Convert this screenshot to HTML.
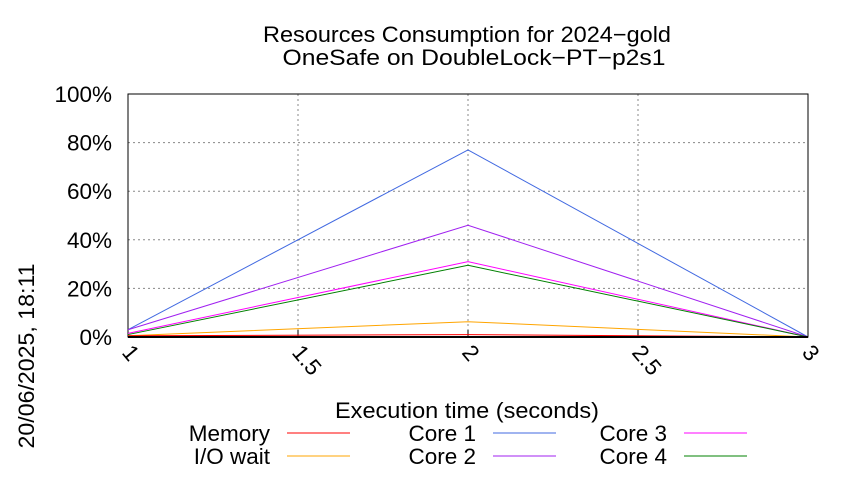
<!DOCTYPE html>
<html><head><meta charset="utf-8"><style>
body{margin:0;background:#fff}
text{font-family:"Liberation Sans",sans-serif;fill:#000}
</style></head><body>
<svg width="850" height="475" viewBox="0 0 850 475">
<text x="467" y="42" font-size="22" text-anchor="middle" textLength="408" lengthAdjust="spacingAndGlyphs">Resources Consumption for 2024−gold</text>
<text x="474" y="65" font-size="22" text-anchor="middle" textLength="383" lengthAdjust="spacingAndGlyphs">OneSafe on DoubleLock−PT−p2s1</text>
<text transform="translate(34,356) rotate(-90)" font-size="22" text-anchor="middle" textLength="185" lengthAdjust="spacingAndGlyphs">20/06/2025, 18:11</text>
<text x="467" y="418" font-size="22" text-anchor="middle" textLength="264" lengthAdjust="spacingAndGlyphs">Execution time (seconds)</text>
<g id="grid"></g>
<g id="series"></g>
<g id="legend"></g>
</svg>
<script>
const xTicks=[1,1.5,2,2.5,3];
const yTicks=[0,20,40,60,80,100];
const times=[1,2,3];
const seriesNames=["Memory","I/O wait","Core 1","Core 2","Core 3","Core 4"];
const memory=[0.5,1,0];
const ioWait=[0.5,6.3,0];
const core1=[3,77,0];
const core2=[3,46,0];
const core3=[1.5,31,0];
const core4=[1,29.5,0];
const colors=["#ff0000","#ffa500","#4169e1","#a020f0","#ff00ff","#008000"];
const L=128,R=808,T=94,B=337;
const sx=v=>L+(v-1)/(3-1)*(R-L);
const sy=v=>B-v/100*(B-T);
const NS="http://www.w3.org/2000/svg";
function mk(tag,attrs,parent){const e=document.createElementNS(NS,tag);for(const k in attrs)e.setAttribute(k,attrs[k]);parent.appendChild(e);return e;}
const g=document.getElementById('grid');
yTicks.forEach(t=>{
  if(t>0&&t<100){const ln=mk('line',{x1:L,x2:R,y1:sy(t),y2:sy(t),stroke:'#888','stroke-dasharray':'2,3','stroke-width':1},g);
  
  }
  const tx=mk('text',{x:112,y:sy(t)+8,'font-size':22.5,'text-anchor':'end'},g);tx.textContent=t+'%';
  
  
});
xTicks.forEach(t=>{
  if(t>1&&t<3){const ln=mk('line',{x1:sx(t),x2:sx(t),y1:T,y2:B,stroke:'#888','stroke-dasharray':'2,3','stroke-width':1},g);
  
  
  mk('line',{x1:sx(t),x2:sx(t),y1:B,y2:B-7,stroke:'#000'},g);}
  const tx=mk('text',{transform:`translate(${sx(t)-7},${B+16}) rotate(50)`,'font-size':22.5},g);tx.textContent=String(t);
  
  
});
const frame=mk('rect',{x:L,y:T,width:R-L,height:B-T,fill:'none',stroke:'#000','stroke-width':1},g);


const s=document.getElementById('series');
const data=[memory,ioWait,core1,core2,core3,core4];
[2,3,4,5,1,0].forEach(i=>{
  const pl=mk('polyline',{points:times.map((t,j)=>sx(t)+','+sy(data[i][j])).join(' '),fill:'none',stroke:colors[i],'stroke-width':1},s);
  
  
});
mk('line',{x1:L,x2:R,y1:B,y2:B,stroke:'#000','stroke-width':2},s);
const lg=document.getElementById('legend');
const cols=[270,476,667],rows=[441,464];
seriesNames.forEach((n,i)=>{
  const c=Math.floor(i/2),r=i%2;
  const tx=mk('text',{x:cols[c],y:rows[r],'font-size':22.5,'text-anchor':'end'},lg);tx.textContent=n;
  
  
  const ln=mk('line',{x1:cols[c]+17,x2:cols[c]+80,y1:rows[r]-8,y2:rows[r]-8,stroke:colors[i],'stroke-width':1},lg);
  
  
});
</script>
</body></html>
